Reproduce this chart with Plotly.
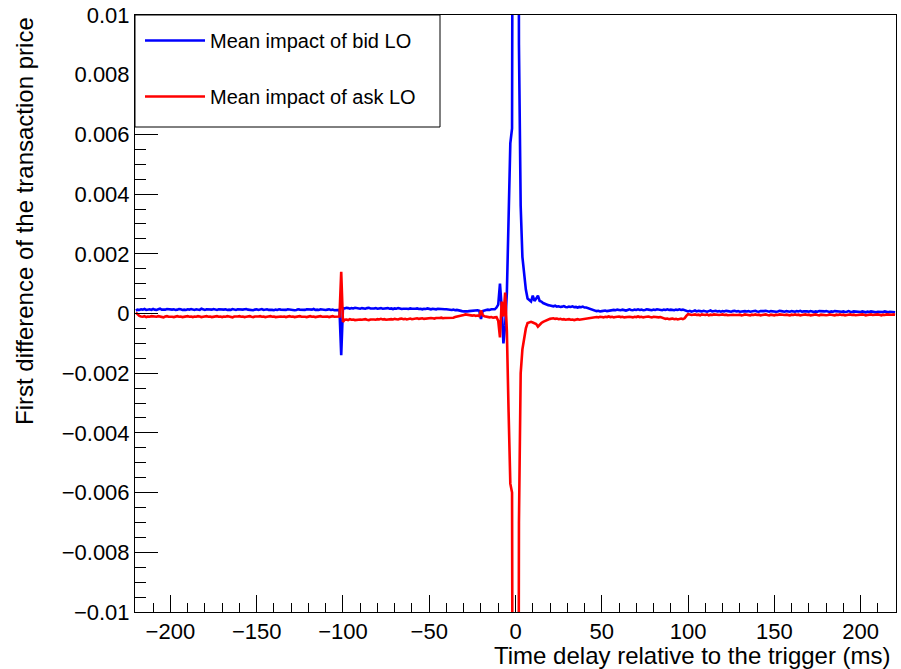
import plotly.graph_objects as go

# Time delay relative to the trigger (ms), 1 ms bins
TIME_MS = list(range(-220, 221))

# Mean impact (first difference of transaction price), in units of 1e-5
BID_1E5 = (
    # -220 .. -102
    [10,13,12,14,13,15,12,13,14,12,
     15,13,12,14,16,13,12,13,15,14,
     12,13,14,12,13,15,14,12,13,12,
     14,13,15,13,12,14,13,12,16,13,
     12,14,13,12,13,15,13,12,14,13,
     12,13,14,12,13,12,15,13,12,14,
     13,12,13,14,15,13,12,13,11,13,
     14,12,13,15,12,13,14,12,13,12,
     11,13,12,14,13,12,13,12,14,13,
     12,13,11,12,14,13,12,13,12,14,
     13,12,13,15,12,13,12,14,13,12,
     12,13,14,12,13,11,12,13,12]
    # -101, -100
    + [-140, 18]
    # -99 .. -41
    + [17,19,18,16,18,17,19,18,17,16,
       18,17,16,18,19,17,16,17,18,16,
       17,18,16,17,19,18,16,17,15,17,
       16,18,17,15,16,17,16,15,17,16,
       15,16,17,15,16,14,16,15,17,15,
       14,16,15,14,16,15,14,15,14]
    # -40 .. -12
    + [14,13,14,12,13,11,12,10,9,8,
       7,6,7,8,9,10,9,10,11,9,
       -18,8,11,12,13,12,14,13,14]
    # -11 .. 15
    + [20,30,100,20,-100,-40,70,350,570,620,
       3000,6000,4000,900,360,190,120,80,50,45,
       40,60,42,50,60,42,40]
    # 16 .. 40
    + [35,32,30,28,27,25,24,26,23,24,
       22,23,25,22,21,23,22,24,21,22,
       20,22,21,23,20]
    # 41 .. 98
    + [20,18,16,14,12,10,8,9,7,8,
       9,10,8,9,11,10,12,11,13,12,
       11,13,12,10,12,14,12,11,13,12,
       14,12,13,11,12,14,13,12,11,13,
       12,14,13,12,11,13,12,14,12,13,
       12,11,13,12,14,12,13,11]
    # 99 .. 220
    + [8,7,9,6,8,10,7,9,8,7,
       9,8,6,8,10,7,8,9,7,8,
       6,8,7,9,8,7,6,8,9,7,
       8,6,7,9,8,7,8,6,7,8,
       9,7,6,8,7,8,9,7,6,8,
       7,8,6,7,9,8,7,6,8,7,
       6,8,7,6,8,7,9,6,7,8,
       7,6,8,7,5,7,6,8,7,6,
       7,8,6,5,7,6,8,7,6,5,
       6,7,5,6,8,6,5,7,6,5,
       6,5,7,6,4,6,5,7,6,5,
       4,6,5,6,5,7,5,4,6,5,
       5,4]
)

ASK_1E5 = (
    # -220 .. -102
    [3,-4,-8,-10,-11,-9,-12,-10,-11,-9,
     -10,-12,-11,-9,-10,-11,-13,-10,-9,-11,
     -10,-11,-12,-10,-9,-11,-10,-12,-11,-10,
     -9,-11,-10,-12,-10,-11,-9,-10,-12,-11,
     -10,-9,-11,-10,-12,-11,-10,-9,-11,-10,
     -12,-10,-11,-9,-10,-11,-13,-10,-11,-10,
     -9,-11,-10,-12,-11,-10,-9,-11,-12,-10,
     -11,-10,-9,-11,-10,-12,-11,-10,-9,-11,
     -10,-12,-11,-9,-10,-11,-10,-12,-10,-9,
     -11,-10,-12,-11,-10,-9,-11,-10,-11,-12,
     -10,-9,-11,-10,-12,-11,-10,-9,-11,-10,
     -11,-10,-12,-10,-9,-11,-10,-11,-10]
    # -101, -100
    + [140, -28]
    # -99 .. -41
    + [-21,-20,-22,-19,-21,-20,-22,-21,-19,-20,
       -21,-20,-19,-21,-22,-20,-19,-20,-21,-19,
       -20,-18,-20,-19,-21,-20,-18,-19,-20,-18,
       -19,-20,-18,-17,-19,-18,-20,-18,-17,-19,
       -18,-17,-16,-18,-17,-16,-18,-17,-16,-17,
       -15,-16,-17,-15,-16,-15,-14,-16,-15]
    # -40 .. -12
    + [-15,-14,-15,-13,-14,-12,-11,-10,-9,-7,
       -5,-3,-4,-6,-5,-7,-6,-8,-7,-9,
       10,-6,-9,-11,-12,-13,-12,-14,-13]
    # -11 .. 15
    + [-12,-25,-80,40,-10,70,-60,-330,-570,-600,
       -3000,-6000,-4000,-700,-200,-120,-80,-50,-32,-30,
       -28,-30,-32,-35,-44,-36,-32]
    # 16 .. 40
    + [-28,-25,-22,-20,-18,-17,-16,-18,-17,-19,
       -18,-20,-19,-21,-20,-19,-21,-20,-22,-20,
       -19,-21,-20,-19,-18]
    # 41 .. 98
    + [-18,-17,-16,-15,-14,-13,-12,-13,-11,-12,
       -13,-11,-12,-10,-12,-11,-13,-12,-11,-10,
       -12,-11,-13,-12,-10,-11,-12,-13,-11,-12,
       -10,-12,-11,-13,-12,-11,-10,-12,-13,-11,
       -12,-11,-13,-12,-14,-16,-18,-17,-19,-18,
       -17,-19,-18,-20,-18,-17,-19,-16]
    # 99 .. 220
    + [-8,-2,-3,-5,-4,-3,-5,-4,-6,-3,
       -4,-5,-3,-6,-4,-5,-3,-4,-6,-5,
       -4,-3,-5,-4,-6,-5,-3,-4,-5,-6,
       -5,-4,-6,-5,-3,-4,-5,-6,-4,-5,
       -3,-5,-4,-6,-5,-4,-3,-5,-6,-4,
       -5,-6,-4,-5,-3,-4,-6,-5,-4,-5,
       -6,-4,-5,-3,-5,-4,-6,-5,-4,-3,
       -5,-4,-6,-5,-4,-3,-5,-6,-4,-5,
       -4,-6,-5,-3,-4,-5,-6,-4,-5,-3,
       -5,-4,-6,-5,-4,-3,-5,-4,-6,-5,
       -4,-5,-3,-4,-6,-5,-4,-3,-5,-4,
       -5,-3,-4,-6,-4,-5,-3,-4,-5,-4,
       -3,-4]
)

SERIES_NAMES = ["Mean impact of bid LO", "Mean impact of ask LO"]
Y_TICK_VALS = [-0.01, -0.008, -0.006, -0.004, -0.002, 0, 0.002, 0.004, 0.006, 0.008, 0.01]
Y_TICK_TEXT = ["\u22120.01", "\u22120.008", "\u22120.006", "\u22120.004", "\u22120.002", "0",
               "0.002", "0.004", "0.006", "0.008", "0.01"]
X_TITLE = "Time delay relative to the trigger (ms)"
Y_TITLE = "First difference of the transaction price"

assert len(BID_1E5) == len(TIME_MS) and len(ASK_1E5) == len(TIME_MS)

bid = [v * 1e-5 for v in BID_1E5]
ask = [v * 1e-5 for v in ASK_1E5]

FONT = "Liberation Sans, Arial, Helvetica, sans-serif"
W, H = 901, 669
ML, MR, MT, MB = 135, 5, 15, 57
PW, PH = W - ML - MR, H - MT - MB

fig = go.Figure()
fig.add_trace(go.Scatter(x=TIME_MS, y=bid, mode="lines", name=SERIES_NAMES[0],
                         line=dict(color="#0000ff", width=2.6), legendgroup="a"))
fig.add_trace(go.Scatter(x=TIME_MS, y=ask, mode="lines", name=SERIES_NAMES[1],
                         line=dict(color="#ff0000", width=2.6), legendgroup="b"))

axis_common = dict(showline=True, linecolor="black", linewidth=1, mirror=True,
                   showgrid=False, zeroline=False, ticks="inside", tickcolor="black",
                   tickwidth=1, tickfont=dict(family=FONT, size=22, color="black"))

fig.update_xaxes(range=[-220.5, 220.5], tick0=0, dtick=50, ticklen=17,
                 minor=dict(dtick=10, ticklen=9, ticks="inside", tickcolor="black"),
                 **axis_common)
fig.update_yaxes(range=[-0.01, 0.01], tickvals=Y_TICK_VALS, ticktext=Y_TICK_TEXT, ticklen=23,
                 minor=dict(dtick=0.0005, ticklen=11, ticks="inside", tickcolor="black"),
                 **axis_common)

# legend box (drawn as a frame behind the legend entries)
fig.add_shape(type="rect", xref="paper", yref="paper",
              x0=0, x1=305 / PW, y0=1 - 112 / PH, y1=1,
              line=dict(color="black", width=1), fillcolor="white", layer="above")

fig.update_layout(
    width=W, height=H,
    margin=dict(l=ML, r=MR, t=MT, b=MB, autoexpand=False),
    plot_bgcolor="white", paper_bgcolor="white",
    font=dict(family=FONT, color="black"),
    showlegend=True,
    legend=dict(x=5 / PW, y=1 - 6 / PH, xanchor="left", yanchor="top",
                bgcolor="rgba(0,0,0,0)", borderwidth=0,
                font=dict(family=FONT, size=20, color="black"),
                itemwidth=60, tracegroupgap=27),
    annotations=[
        dict(text=X_TITLE, xref="paper", yref="paper", x=1 - 3 / PW, y=-43 / PH,
             xanchor="right", yanchor="middle", showarrow=False,
             font=dict(family=FONT, size=24, color="black")),
        dict(text=Y_TITLE, xref="paper", yref="paper", x=-111 / PW, y=1,
             xanchor="center", yanchor="top", textangle=-90, showarrow=False,
             font=dict(family=FONT, size=24, color="black")),
    ],
)

# remove the browser's default 8 px body margin so the figure fills the window
fig.write_html("out.html",
               config={"displayModeBar": False},
               post_script="document.body.style.margin='0';document.body.style.overflow='hidden';")
